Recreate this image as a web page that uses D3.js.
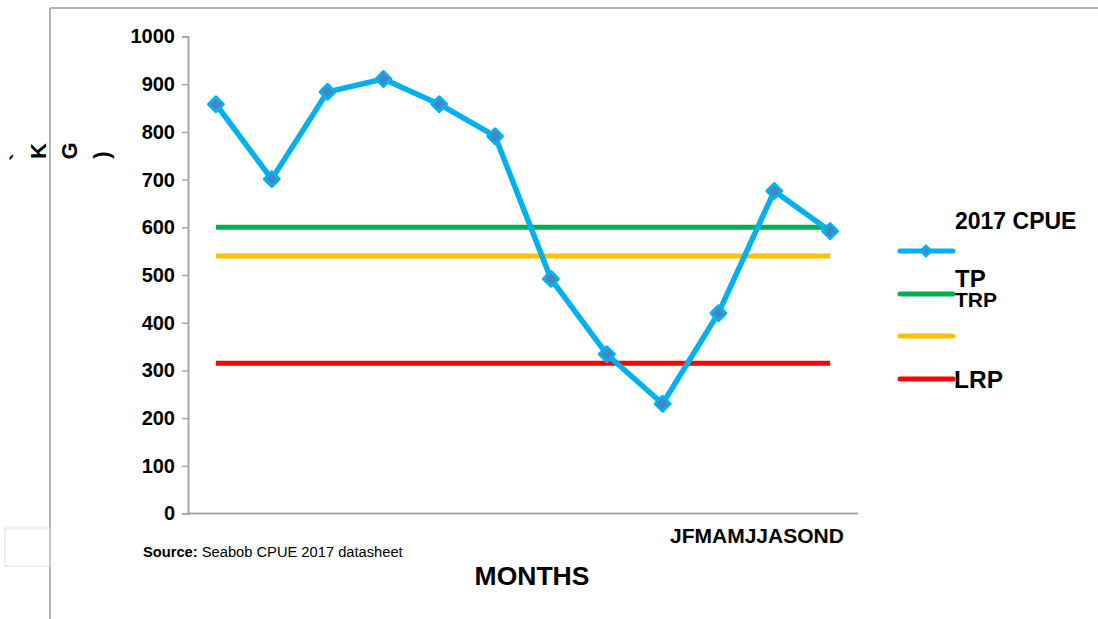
<!DOCTYPE html>
<html>
<head>
<meta charset="utf-8">
<script src="https://cdn.jsdelivr.net/npm/d3@7"></script>
<style>
  html, body { margin: 0; padding: 0; background: #fff; }
  svg { display: block; font-family: "Liberation Sans", Arial, sans-serif; }
</style>
</head>
<body>
<svg id="chart" width="1098" height="619"></svg>
<script>
// Monthly CPUE for 2017 with reference points
const months = ["J", "F", "M", "A", "M2", "J2", "J3", "A2", "S", "O", "N", "D"];
const cpue2017 = [858, 701, 884, 911, 858, 791, 492, 334, 230, 420, 676, 592];
const yTicks = [0, 100, 200, 300, 400, 500, 600, 700, 800, 900, 1000];
const refNames = ["TRP", "TP", "LRP"];
const refValues = [600, 540, 315];
const refColors = ["#00B050", "#FFC000", "#FF0000"];
const seriesName = "2017 CPUE";
const monthLabel = "JFMAMJJASOND";

const svg = d3.select("#chart");

// frame pieces
svg.append("line").attr("x1", 50).attr("x2", 50).attr("y1", 8).attr("y2", 619)
  .attr("stroke", "#999").attr("stroke-width", 1.5);
svg.append("line").attr("x1", 50).attr("x2", 1098).attr("y1", 8).attr("y2", 8)
  .attr("stroke", "#999").attr("stroke-width", 1.5);
svg.append("rect").attr("x", 5).attr("y", 528).attr("width", 45).attr("height", 38)
  .attr("fill", "none").attr("stroke", "#ddd").attr("stroke-width", 1);

const x = d3.scaleBand().domain(months).range([188, 858]).padding(0);
const y = d3.scaleLinear().domain([0, 1000]).range([513.5, 36.5]);
const cx = m => x(m) + x.bandwidth() / 2;

// y axis
const yAxis = svg.append("g").attr("transform", "translate(188,0)")
  .call(d3.axisLeft(y).tickValues(yTicks).tickFormat(d3.format("d")).tickSize(6).tickPadding(7));
yAxis.select(".domain").attr("stroke", "#a6a6a6").attr("stroke-width", 2);
yAxis.selectAll(".tick line").attr("stroke", "#a6a6a6").attr("stroke-width", 1.5);
yAxis.selectAll(".tick text").attr("font-size", 20).attr("font-weight", "bold")
  .attr("fill", "#000").attr("font-family", "Liberation Sans, Arial, sans-serif");

// x axis baseline
svg.append("line").attr("x1", 188).attr("x2", 858).attr("y1", y(0)).attr("y2", y(0))
  .attr("stroke", "#a6a6a6").attr("stroke-width", 2);

// reference lines spanning first to last month
refValues.forEach((v, i) => {
  svg.append("line")
    .attr("x1", cx(months[0])).attr("x2", cx(months[months.length - 1]))
    .attr("y1", y(v)).attr("y2", y(v))
    .attr("stroke", refColors[i]).attr("stroke-width", 5);
});

// CPUE line
const line = d3.line().x((d, i) => cx(months[i])).y(d => y(d));
svg.append("path").datum(cpue2017).attr("d", line)
  .attr("fill", "none").attr("stroke", "#00B0F0").attr("stroke-width", 5.5)
  .attr("stroke-linejoin", "round");

const diamond = d3.symbol().type(d3.symbolDiamond2).size(140);
svg.selectAll("path.marker").data(cpue2017).join("path").attr("class", "marker")
  .attr("d", diamond)
  .attr("transform", (d, i) => `translate(${cx(months[i])},${y(d)})`)
  .attr("fill", "#4F81BD").attr("stroke", "#00B0F0").attr("stroke-width", 3)
  .attr("stroke-linejoin", "round");

// legend
const lg = svg.append("g");
lg.append("text").attr("x", 955).attr("y", 229).text(seriesName)
  .attr("font-size", 23).attr("font-weight", "bold");
lg.append("line").attr("x1", 900).attr("x2", 953).attr("y1", 251).attr("y2", 251)
  .attr("stroke", "#00B0F0").attr("stroke-width", 5).attr("stroke-linecap", "round");
lg.append("path").attr("d", d3.symbol().type(d3.symbolDiamond2).size(70))
  .attr("transform", "translate(926,251)")
  .attr("fill", "#4F81BD").attr("stroke", "#00B0F0").attr("stroke-width", 2.5);

lg.append("text").attr("x", 955).attr("y", 287).text(refNames[1])
  .attr("font-size", 24).attr("font-weight", "bold");
lg.append("line").attr("x1", 900).attr("x2", 953).attr("y1", 294).attr("y2", 294)
  .attr("stroke", refColors[0]).attr("stroke-width", 5).attr("stroke-linecap", "round");
lg.append("text").attr("x", 955).attr("y", 307).text(refNames[0])
  .attr("font-size", 21).attr("font-weight", "bold");

lg.append("line").attr("x1", 900).attr("x2", 953).attr("y1", 336).attr("y2", 336)
  .attr("stroke", refColors[1]).attr("stroke-width", 5).attr("stroke-linecap", "round");

lg.append("line").attr("x1", 900).attr("x2", 953).attr("y1", 379).attr("y2", 379)
  .attr("stroke", refColors[2]).attr("stroke-width", 5).attr("stroke-linecap", "round");
lg.append("text").attr("x", 954).attr("y", 388).text(refNames[2])
  .attr("font-size", 24.5).attr("font-weight", "bold");

// month letters under the axis
svg.append("text").attr("x", 670).attr("y", 543).text(monthLabel)
  .attr("font-size", 21).attr("font-weight", "bold");

// axis title
svg.append("text").attr("x", 532).attr("y", 585).attr("text-anchor", "middle")
  .text("MONTHS").attr("font-size", 26.5).attr("font-weight", "bold");

// source note
const src = svg.append("text").attr("x", 143).attr("y", 557).attr("font-size", 14.7);
src.append("tspan").attr("font-weight", "bold").text("Source:");
src.append("tspan").text(" Seabob CPUE 2017 datasheet");

// y axis title, glyphs turned individually
const yChars = [["`", 18, 157], ["K", 38, 151], ["G", 69, 151], [")", 101, 155]];
yChars.forEach(([c, cxp, cyp]) => {
  svg.append("text").attr("transform", `translate(${cxp},${cyp}) rotate(-90)`)
    .attr("text-anchor", "middle").attr("dominant-baseline", "central")
    .attr("font-size", 22).attr("font-weight", "bold").text(c);
});
</script>
</body>
</html>
